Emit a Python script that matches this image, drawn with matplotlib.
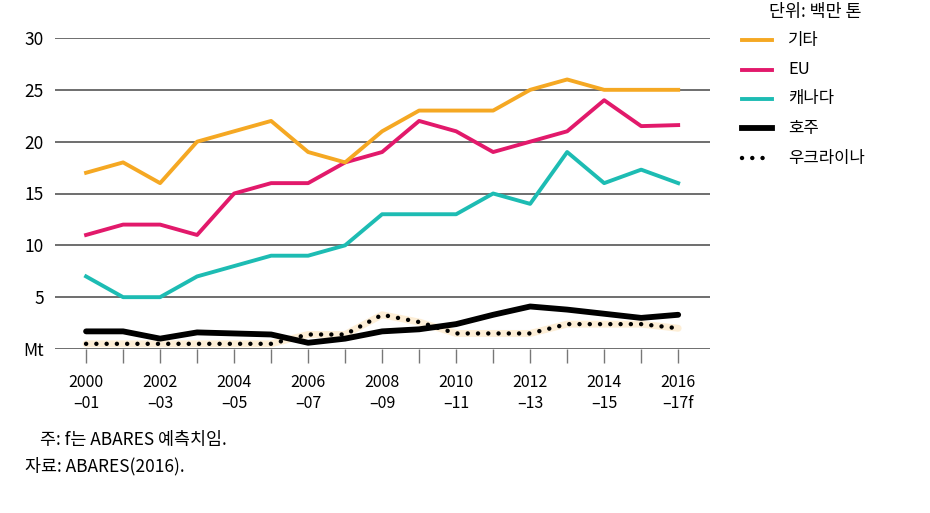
import numpy as np
import matplotlib.pyplot as plt

plt.rcParams['font.family'] = ['Noto Sans CJK KR', 'DejaVu Sans']

years = list(range(2000, 2017))
others = [17, 18, 16, 20, 21, 22, 19, 18, 21, 23, 23, 23, 25, 26, 25, 25, 25]
eu = [11, 12, 12, 11, 15, 16, 16, 18, 19, 22, 21, 19, 20, 21, 24, 21.5, 21.6]
canada = [7, 5, 5, 7, 8, 9, 9, 10, 13, 13, 13, 15, 14, 19, 16, 17.3, 16]
australia = [1.7, 1.7, 1.0, 1.6, 1.5, 1.4, 0.6, 1.0, 1.7, 1.9, 2.4, 3.3, 4.1, 3.8, 3.4, 3.0, 3.3]
ukraine = [0.5, 0.5, 0.5, 0.5, 0.5, 0.5, 1.4, 1.4, 3.3, 2.6, 1.5, 1.5, 1.5, 2.4, 2.4, 2.4, 2.0]

names = ['기타', 'EU', '캐나다', '호주', '우크라이나']
xlabels = ['2000\n–01', '2002\n–03', '2004\n–05', '2006\n–07', '2008\n–09',
           '2010\n–11', '2012\n–13', '2014\n–15', '2016\n–17f']

fig = plt.figure(figsize=(9.3, 5.13), dpi=100)
ax = fig.add_axes([55/930, 1 - 349/513, 655/930, 311/513])

# gridlines
for v in range(0, 31, 5):
    ax.axhline(v, color='#6e6e6e', lw=1.4, zorder=1)

dots = (0, (0.01, 2.3))

# ukraine: beige halo + dots
ax.plot(years, ukraine, color='#fdeed6', lw=5, solid_capstyle='round', zorder=2)
ax.plot(years, ukraine, color='black', lw=3.2, linestyle=dots,
        dash_capstyle='round', zorder=3, clip_on=False)
ax.plot(years, australia, color='black', lw=4.2, solid_capstyle='round', zorder=4)
ax.plot(years, canada, color='#1dbcb3', lw=2.8, zorder=4)
ax.plot(years, eu, color='#e2196b', lw=2.8, zorder=4)
ax.plot(years, others, color='#f5a823', lw=2.8, zorder=5)

ax.set_xlim(1999.16, 2016.86)
ax.set_ylim(0, 30)
ax.set_yticks(range(0, 31, 5))
ax.set_yticklabels(['Mt', '5', '10', '15', '20', '25', '30'], fontsize=12.5)
ax.set_xticks(years, minor=True)
ax.set_xticks(years[::2])
ax.set_xticklabels(xlabels, fontsize=11.5, linespacing=1.3)
ax.tick_params(axis='y', length=0, pad=8)
ax.tick_params(axis='x', which='both', length=10, width=1, color='#777777', pad=8)
for s in ax.spines.values():
    s.set_visible(False)

# legend
fig.text(815/930, 1 - 12/513, '단위: 백만 톤', fontsize=12.5, ha='center', va='center')
leg_y = [40, 70, 99, 128, 158]
styles = [dict(color='#f5a823', lw=2.8), dict(color='#e2196b', lw=2.8),
          dict(color='#1dbcb3', lw=2.8), dict(color='black', lw=4.2),
          dict(color='black', lw=3.2, linestyle=dots, dash_capstyle='round')]
for name, yy, st in zip(names, leg_y, styles):
    fy = 1 - yy/513
    fig.add_artist(plt.Line2D([742/930, 772/930], [fy, fy], transform=fig.transFigure, **st))
    fig.text(788/930, fy, name, fontsize=12, va='center')

fig.text(40/930, 1 - 440/513, '주: f는 ABARES 예측치임.', fontsize=12.5, va='center')
fig.text(25/930, 1 - 466/513, '자료: ABARES(2016).', fontsize=12.5, va='center')

fig.savefig('out.png', dpi=100)
